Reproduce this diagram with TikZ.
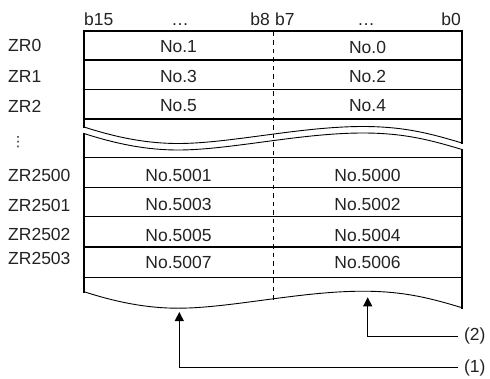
\documentclass[tikz,border=0pt]{standalone}
\usepackage{fontspec}
\setmainfont{Liberation Sans}
\newfontfamily\dejavu{DejaVu Sans}
\usetikzlibrary{arrows.meta}
\definecolor{txt}{HTML}{222222}
\newcommand{\zrwave}[1]{(84,#1) .. controls (118,#1+11) and (148,#1+16.5) .. (178,#1+16.5)
  .. controls (230,#1+16.5) and (300,#1-0.5) .. (363,#1-0.5)
  .. controls (405,#1-0.5) and (432,#1+7) .. (462,#1+16)}
\begin{document}
\begin{tikzpicture}[x=1pt,y=-1pt,
  lbl/.style={font=\fontsize{17.5}{20}\selectfont, text=txt, inner sep=0pt},
  frame/.style={line width=2pt, line cap=rect},
  rowline/.style={line width=1.2pt},
  wave/.style={line width=0.9pt},
  divider/.style={line width=1pt, dash pattern=on 4.5pt off 4pt},
  callout/.style={line width=1pt, -{Triangle[width=9pt,length=9pt]}}]
\useasboundingbox (0,0) rectangle (490,378);
% frame
\draw[frame] (84,127) -- (84,30.7) -- (462,30.7) -- (462,143);
\draw[frame] (84,133.5) -- (84,291.7);
\draw[frame] (462,149.5) -- (462,307.7);
% rows
\foreach \y in {60,89.5,119,157.7,187.3,216.7,247,277.3}
  \draw[rowline] (84,\y) -- (462,\y);
% waves
\draw[wave] \zrwave{127};
\draw[wave] \zrwave{133.5};
\draw[wave] \zrwave{291.7};
% divider
\draw[divider] (273,31.5) -- (273,299.5);
% bit labels
\node[lbl, anchor=base west] (b15) at (84,25) {b15};
\node[lbl, anchor=base] (dl) at (180,25) {…};
\node[lbl, anchor=base east] (b8) at (270,25) {b8};
\node[lbl, anchor=base west] (b7) at (275,25) {b7};
\node[lbl, anchor=base] (dr) at (366,25) {…};
\node[lbl, anchor=base east] (b0) at (461,25) {b0};
% register labels
\node[lbl, anchor=west] (zr0) at (8,45.8) {ZR0};
\node[lbl, anchor=west] (zr1) at (8,76) {ZR1};
\node[lbl, anchor=west] (zr2) at (8,106) {ZR2};
\node[lbl, anchor=center, font=\dejavu\fontsize{14}{14}\selectfont] (vd) at (18,142) {⋮};
\node[lbl, anchor=west] (zr2500) at (8,175.5) {ZR2500};
\node[lbl, anchor=west] (zr2501) at (8,205) {ZR2501};
\node[lbl, anchor=west] (zr2502) at (8,234) {ZR2502};
\node[lbl, anchor=west] (zr2503) at (8,258.5) {ZR2503};
% cells
\node[lbl] (c1) at (178.5,47) {No.1};
\node[lbl] (c0) at (367.5,47) {No.0};
\node[lbl] (c3) at (178.5,76.5) {No.3};
\node[lbl] (c2) at (367.5,76.5) {No.2};
\node[lbl] (c5) at (178.5,106) {No.5};
\node[lbl] (c4) at (367.5,106) {No.4};
\node[lbl] (c5001) at (178.5,175.5) {No.5001};
\node[lbl] (c5000) at (367.5,175.5) {No.5000};
\node[lbl] (c5003) at (178.5,204.5) {No.5003};
\node[lbl] (c5002) at (367.5,204.5) {No.5002};
\node[lbl] (c5005) at (178.5,235) {No.5005};
\node[lbl] (c5004) at (367.5,235) {No.5004};
\node[lbl] (c5007) at (178.5,262) {No.5007};
\node[lbl] (c5006) at (367.5,262) {No.5006};
% callouts
\node[lbl, anchor=west, outer xsep=6pt] (n2) at (458,336) {(2)};
\node[lbl, anchor=west, outer xsep=6pt] (n1) at (458,367.7) {(1)};
\coordinate (tip2) at (367.7,297.3);
\coordinate (tip1) at (179.3,312);
\draw[callout] (n2.west) -| (tip2);
\draw[callout] (n1.west) -| (tip1);
\end{tikzpicture}
\end{document}
